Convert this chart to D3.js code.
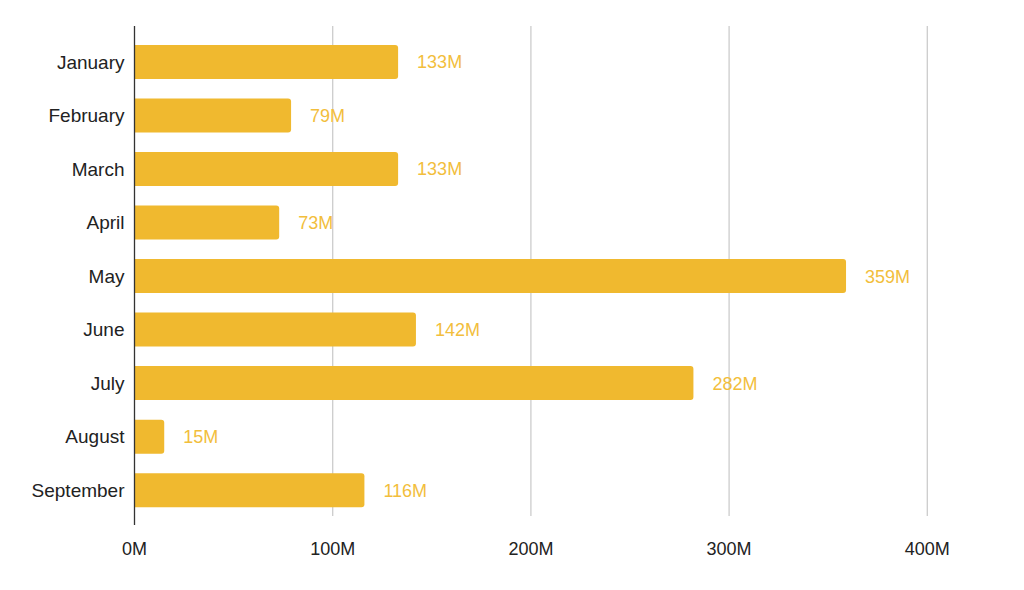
<!DOCTYPE html>
<html>
<head>
<meta charset="utf-8">
<script src="https://cdn.jsdelivr.net/npm/d3@7"></script>
<style>
  body { margin: 0; background: #fff; }
  text { font-family: "Liberation Sans", Arial, sans-serif; }
</style>
</head>
<body>
<div id="chart"></div>
<script>
// Data
const months = ["January", "February", "March", "April", "May", "June", "July", "August", "September"];
const values = [133, 79, 133, 73, 359, 142, 282, 15, 116];   // millions
const ticks = [0, 100, 200, 300, 400];

const width = 1024, height = 590;
const plot = {left: 134.5, right: 927.3, top: 26, bottom: 516};

const svg = d3.select('#chart')
    .append('svg')
    .attr('width', width)
    .attr('height', height)

const xScale = d3.scaleLinear()
    .domain([0, 400])
    .range([plot.left, plot.right])

const yScale = d3.scaleBand()
    .domain(months)
    .range([35.3, 516.8])
    .paddingInner(0.365)
    .paddingOuter(0.18)

// gridlines
svg.append('g')
    .selectAll('line')
    .data(ticks.slice(1))
    .enter().append('line')
    .attr('x1', d => xScale(d))
    .attr('x2', d => xScale(d))
    .attr('y1', plot.top)
    .attr('y2', plot.bottom)
    .attr('stroke', '#cccccc')
    .attr('stroke-width', 1.3)

// tick labels
svg.append('g')
    .selectAll('text')
    .data(ticks)
    .enter().append('text')
    .attr('x', d => xScale(d))
    .attr('y', 555)
    .attr('text-anchor', 'middle')
    .style('font-size', '18px')
    .style('fill', '#222')
    .text(d => d + 'M')

// bars with rounded right end
const r = 3;
svg.append('g')
    .selectAll('path')
    .data(months)
    .enter().append('path')
    .attr('fill', '#f0b92f')
    .attr('d', (d, i) => {
        const x0 = xScale(0), x1 = xScale(values[i]);
        const y0 = yScale(d), h = yScale.bandwidth();
        return `M${x0},${y0}H${x1 - r}Q${x1},${y0} ${x1},${y0 + r}V${y0 + h - r}Q${x1},${y0 + h} ${x1 - r},${y0 + h}H${x0}Z`;
    })

// value labels
svg.append('g')
    .selectAll('text')
    .data(months)
    .enter().append('text')
    .attr('x', (d, i) => xScale(values[i]) + 19)
    .attr('y', d => yScale(d) + yScale.bandwidth() / 2)
    .attr('dy', '0.36em')
    .style('font-size', '18px')
    .style('fill', '#f2be3c')
    .text((d, i) => values[i] + 'M')

// month labels
svg.append('g')
    .selectAll('text')
    .data(months)
    .enter().append('text')
    .attr('x', 124.5)
    .attr('y', d => yScale(d) + yScale.bandwidth() / 2)
    .attr('dy', '0.36em')
    .attr('text-anchor', 'end')
    .style('font-size', '19px')
    .style('fill', '#222')
    .text(d => d)

// y axis line
svg.append('line')
    .attr('x1', plot.left)
    .attr('x2', plot.left)
    .attr('y1', plot.top)
    .attr('y2', 525)
    .attr('stroke', '#333')
    .attr('stroke-width', 1.3)
</script>
</body>
</html>
